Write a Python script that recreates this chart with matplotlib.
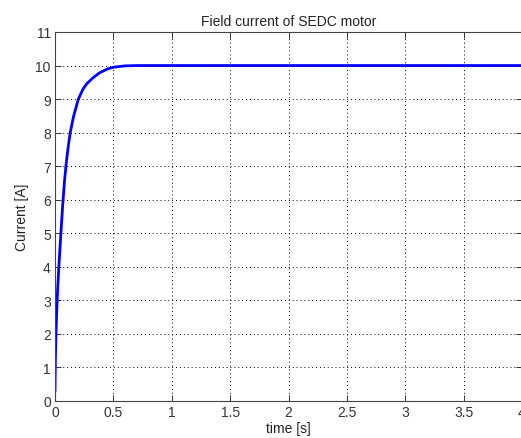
import numpy as np
import matplotlib.pyplot as plt

# field current
time_s = [0.0, 0.003, 0.008, 0.015, 0.022, 0.032, 0.045, 0.055, 0.066, 0.08,
          0.095, 0.11, 0.13, 0.16, 0.2, 0.24, 0.27, 0.32, 0.38, 0.45,
          0.5, 0.6, 0.7, 1.0, 4.0]
current_a = [0.3, 1.2, 2.0, 2.7, 3.3, 3.95, 4.7, 5.25, 5.85, 6.5,
             7.05, 7.5, 8.0, 8.5, 9.0, 9.3, 9.45, 9.62, 9.78, 9.9,
             9.95, 9.99, 10.0, 10.0, 10.0]

x_ticks = [0, 0.5, 1, 1.5, 2, 2.5, 3, 3.5, 4]
x_tick_labels = ['0', '0.5', '1', '1.5', '2', '2.5', '3', '3.5', '4']
y_ticks = list(range(0, 12))

plt.rcParams['font.family'] = ['Liberation Sans', 'DejaVu Sans']

fig = plt.figure(figsize=(5.21, 4.39), dpi=100)
ax = fig.add_axes([55 / 521, 37 / 439, 467 / 521, 369 / 439])

ax.plot(time_s, current_a, color='#0000ff', linewidth=2.0)

ax.set_xlim(0, 4)
ax.set_ylim(0, 11)
ax.set_xticks(x_ticks)
ax.set_xticklabels(x_tick_labels)
ax.set_yticks(y_ticks)

ax.grid(True, linestyle=(0, (1, 3)), color='black', linewidth=0.7)
ax.tick_params(direction='in', length=4, width=0.7, top=True, right=True,
               labelsize=10, pad=3, colors='#333333')
for sp in ax.spines.values():
    sp.set_color('#444444')
    sp.set_linewidth(0.8)

ax.set_title('Field current of SEDC motor', fontsize=10, pad=5, color='#222222')
ax.set_xlabel('time [s]', fontsize=10, labelpad=1, color='#222222')
ax.set_ylabel('Current [A]', fontsize=10, labelpad=5, color='#222222')

fig.savefig('out.png', dpi=100)
